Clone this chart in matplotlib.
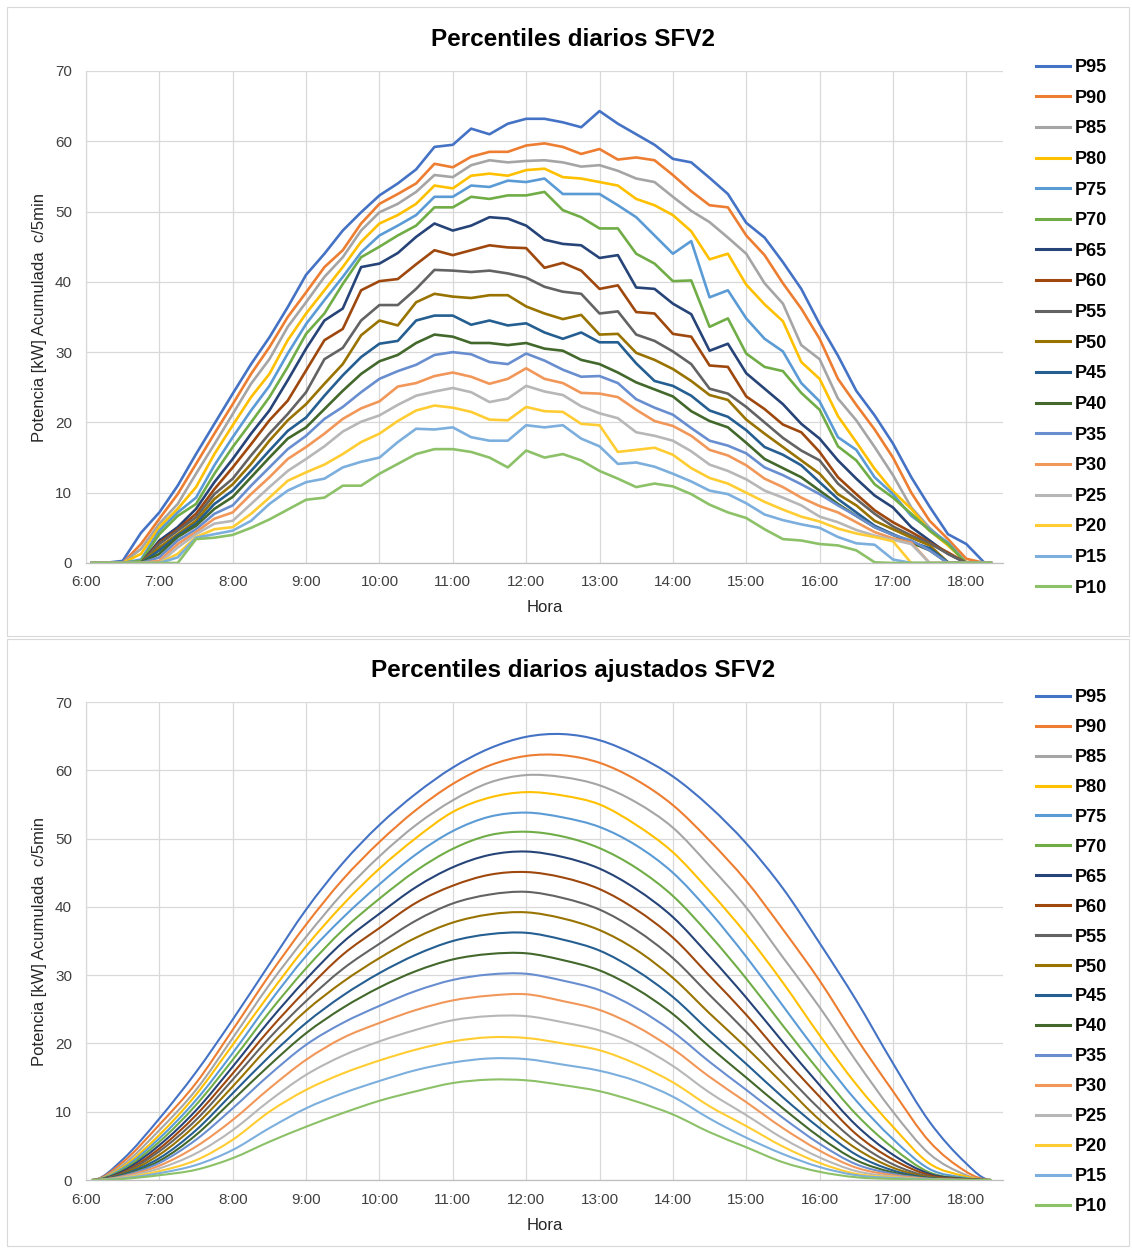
import matplotlib
matplotlib.use("Agg")
import matplotlib.pyplot as plt
from matplotlib.patches import Rectangle, PathPatch
from matplotlib.path import Path
from matplotlib.lines import Line2D

plt.rcParams['font.family'] = ['Liberation Sans', 'DejaVu Sans']

W, H = 1132, 1249

# ---------------------------------------------------------------------------
# Measured daily percentiles (kW accumulated every 5 min), sampled every 15 min
# ---------------------------------------------------------------------------
times_measured = ["6:05", "6:15", "6:30", "6:45", "7:00", "7:15", "7:30", "7:45",
                  "8:00", "8:15", "8:30", "8:45", "9:00", "9:15", "9:30", "9:45",
                  "10:00", "10:15", "10:30", "10:45", "11:00", "11:15", "11:30", "11:45",
                  "12:00", "12:15", "12:30", "12:45", "13:00", "13:15", "13:30", "13:45",
                  "14:00", "14:15", "14:30", "14:45", "15:00", "15:15", "15:30", "15:45",
                  "16:00", "16:15", "16:30", "16:45", "17:00", "17:15", "17:30", "17:45",
                  "18:00", "18:15", "18:20"]

p95 = [0, 0, 0.3, 4.3, 7.2, 11, 15.5, 19.8, 24.1, 28.3, 32.1, 36.4, 41, 44, 47.3, 49.9,
       52.3, 54, 56, 59.2, 59.5, 61.8, 61, 62.5, 63.2, 63.2, 62.7, 62, 64.3, 62.5, 61, 59.5,
       57.5, 57, 54.8, 52.5, 48.4, 46.3, 42.8, 39, 34, 29.5, 24.5, 21, 17, 12.2, 8, 4.1,
       2.7, 0, 0]
p90 = [0, 0, 0, 2.7, 6.3, 9.8, 14.1, 18.4, 22.6, 26.9, 30.7, 35, 38.5, 42.1, 44.5, 48.3,
       51.1, 52.5, 54, 56.8, 56.3, 57.8, 58.5, 58.5, 59.4, 59.7, 59.2, 58.2, 58.9, 57.4, 57.7, 57.3,
       55.2, 52.9, 50.9, 50.6, 46.6, 43.8, 39.8, 36.2, 31.9, 26.2, 22.5, 19, 15, 10, 6, 3.4,
       0.6, 0, 0]
p85 = [0, 0, 0, 2, 5.6, 8.4, 12.7, 16.9, 21.2, 25.5, 29, 33.6, 37.1, 40.7, 43.5, 47.3,
       49.9, 51.1, 52.8, 55.2, 54.9, 56.6, 57.3, 57, 57.2, 57.3, 57, 56.4, 56.6, 55.8, 54.7, 54.2,
       52.1, 50.1, 48.5, 46.3, 44, 39.8, 36.9, 31, 29, 23.4, 20.3, 16.5, 12.5, 7.9, 5, 2.6,
       0, 0, 0]
p80 = [0, 0, 0, 1.3, 5.1, 7.7, 10.8, 15.5, 19.6, 23.6, 26.9, 31.7, 35.5, 38.8, 42.1, 45.7,
       48.3, 49.5, 51.1, 53.7, 53.3, 55.1, 55.4, 55.1, 55.9, 56.1, 54.9, 54.7, 54.2, 53.7, 51.8, 50.9,
       49.5, 47.2, 43.2, 44, 39.6, 36.8, 34.4, 28.6, 26.2, 20.9, 17.2, 13.4, 10.2, 7.7, 4.6, 2.5,
       0.1, 0, 0]
p75 = [0, 0, 0, 0.5, 4.6, 7.2, 9.3, 13.9, 17.9, 21.7, 25.2, 29.8, 34, 37.4, 40.7, 44.2,
       46.6, 48, 49.5, 52.1, 52.1, 53.7, 53.5, 54.4, 54.2, 54.7, 52.5, 52.5, 52.5, 50.9, 49.2, 46.6,
       44, 45.8, 37.8, 38.8, 34.8, 31.9, 30.1, 25.6, 23, 17.9, 16.1, 12.2, 9.8, 6.7, 4.8, 2.9,
       0, 0, 0]
p70 = [0, 0, 0, 0.3, 4.1, 6.7, 8.4, 12.7, 16.5, 20, 23.6, 27.9, 32.6, 35.5, 39.7, 43.5,
       45, 46.6, 48, 50.6, 50.6, 52.1, 51.8, 52.3, 52.3, 52.8, 50.2, 49.2, 47.6, 47.6, 44, 42.6,
       40.1, 40.2, 33.6, 34.8, 29.8, 27.9, 27.3, 24.2, 21.8, 16.6, 14.6, 11.2, 9.3, 7, 4.6, 2.7,
       0, 0, 0]
p65 = [0, 0, 0, 0, 3.2, 5.1, 7.7, 11.5, 14.8, 18.4, 21.7, 26, 30.5, 34.5, 36.2, 42.1,
       42.6, 44.1, 46.4, 48.3, 47.3, 48, 49.2, 49, 48, 46, 45.4, 45.2, 43.4, 43.8, 39.2, 39,
       36.9, 35.4, 30.2, 31.2, 27, 24.8, 22.6, 19.8, 17.7, 14.6, 12, 9.6, 7.9, 5.1, 3.2, 1.3,
       0, 0, 0]
p60 = [0, 0, 0, 0, 2.9, 4.8, 7, 10.5, 13.6, 16.9, 20.3, 23.1, 27.4, 31.7, 33.3, 38.8,
       40.1, 40.4, 42.5, 44.5, 43.8, 44.5, 45.2, 44.9, 44.8, 42, 42.7, 41.6, 39, 39.5, 35.7, 35.5,
       32.6, 32.2, 28.1, 27.9, 23.7, 21.9, 19.7, 18.6, 15.8, 12.2, 9.8, 7.5, 5.8, 4.4, 2.9, 1.5,
       0, 0, 0]
p55 = [0, 0, 0, 0, 2.7, 4.6, 6.5, 9.8, 12, 15.3, 18.4, 21.2, 24.3, 29, 30.6, 34.5,
       36.7, 36.7, 39, 41.7, 41.6, 41.4, 41.6, 41.2, 40.6, 39.3, 38.6, 38.3, 35.5, 35.8, 32.5, 31.6,
       30.1, 28.3, 24.8, 24.1, 22.2, 20, 17.8, 16, 14.6, 11.3, 9.1, 7, 5.2, 3.9, 2.8, 1.3,
       0, 0, 0]
p50 = [0, 0, 0, 0, 2.2, 4.1, 6, 9.1, 11.2, 14.1, 17.4, 20.3, 22.6, 25.5, 28.3, 32.4,
       34.5, 33.8, 37.1, 38.3, 37.9, 37.7, 38.1, 38.1, 36.5, 35.5, 34.7, 35.3, 32.5, 32.6, 29.9, 28.9,
       27.6, 25.9, 23.9, 23.2, 20.4, 18.4, 16.5, 14.6, 12.7, 9.8, 8.2, 6, 4.8, 3.6, 2.5, 0.1,
       0, 0, 0]
p45 = [0, 0, 0, 0, 1.8, 3.9, 5.6, 8.4, 10.3, 13.1, 16, 18.8, 20.7, 23.8, 26.7, 29.3,
       31.2, 31.6, 34.5, 35.2, 35.2, 33.9, 34.5, 33.8, 34.1, 32.8, 31.9, 32.8, 31.4, 31.4, 28.4, 25.9,
       25.2, 23.8, 21.7, 20.8, 18.9, 16.5, 15.4, 13.9, 11.5, 9.1, 7.2, 5.3, 4.1, 3, 2.1, 0.1,
       0, 0, 0]
p40 = [0, 0, 0, 0, 1.3, 3.7, 5.3, 7.7, 9.4, 12.2, 15, 17.7, 19.3, 21.9, 24.5, 26.9,
       28.7, 29.6, 31.3, 32.5, 32.2, 31.3, 31.3, 31, 31.3, 30.5, 30.2, 28.9, 28.3, 27.1, 25.7, 24.7,
       23.7, 21.6, 20.2, 19.3, 17.1, 14.8, 13.5, 12.2, 10.3, 8.4, 6.7, 5.1, 4, 2.9, 1.8, 0,
       0, 0, 0]
p35 = [0, 0, 0, 0, 0.8, 3.2, 4.8, 7, 8.2, 11, 13.6, 16.2, 18.1, 20.5, 22.2, 24.3,
       26.2, 27.3, 28.2, 29.6, 30, 29.7, 28.6, 28.3, 29.8, 28.8, 27.5, 26.5, 26.6, 25.6, 23.3, 22.1,
       21.1, 19.2, 17.4, 16.7, 15.6, 13.6, 12.5, 11.2, 9.8, 8.2, 6.7, 5.1, 4, 3.2, 1.8, 0,
       0, 0, 0]
p30 = [0, 0, 0, 0, 0.3, 2.7, 4.4, 6.3, 7.2, 9.8, 12.2, 14.8, 16.5, 18.4, 20.5, 22,
       23, 25.1, 25.6, 26.6, 27.1, 26.5, 25.5, 26.2, 27.7, 26.2, 25.6, 24.2, 24.1, 23.6, 21.8, 20.2,
       19.5, 18.1, 16.1, 15.3, 13.9, 12, 10.8, 9.3, 8.1, 7.2, 5.8, 4.4, 3.5, 2.9, 0, 0,
       0, 0, 0]
p25 = [0, 0, 0, 0, 0, 2.2, 4.1, 5.6, 6, 8.4, 10.8, 13.1, 14.8, 16.6, 18.7, 20.1,
       21, 22.5, 23.8, 24.4, 24.9, 24.3, 22.9, 23.4, 25.2, 24.4, 23.9, 22.3, 21.3, 20.6, 18.6, 18.1,
       17.4, 15.9, 14, 13.1, 11.9, 10.3, 9.3, 8.2, 6.6, 5.8, 4.7, 3.9, 3.3, 2.7, 0, 0,
       0, 0, 0]
p20 = [0, 0, 0, 0, 0, 1.3, 3.7, 4.8, 5.1, 7, 9.3, 11.7, 12.9, 14, 15.5, 17.2,
       18.4, 20.2, 21.7, 22.4, 22.1, 21.5, 20.4, 20.3, 22.2, 21.6, 21.5, 19.8, 19.6, 15.8, 16.1, 16.4,
       15.4, 13.5, 12.1, 11.3, 10, 8.7, 7.6, 6.6, 5.9, 4.9, 4.2, 3.7, 3.1, 0, 0, 0,
       0, 0, 0]
p15 = [0, 0, 0, 0, 0, 0.8, 3.6, 4.1, 4.6, 6, 8.4, 10.3, 11.5, 12, 13.6, 14.4,
       15, 17.2, 19.1, 19, 19.3, 17.9, 17.4, 17.4, 19.6, 19.3, 19.6, 17.7, 16.6, 14.1, 14.3, 13.7,
       12.7, 11.6, 10.3, 9.8, 8.5, 6.9, 6.1, 5.5, 5, 3.7, 2.8, 2.6, 0.5, 0, 0, 0,
       0, 0, 0]
p10 = [0, 0, 0, 0, 0, 0, 3.4, 3.6, 4, 5, 6.2, 7.6, 9, 9.3, 11, 11,
       12.7, 14.1, 15.5, 16.2, 16.2, 15.8, 15, 13.6, 16, 15, 15.5, 14.6, 13.1, 12, 10.8, 11.3,
       10.9, 9.8, 8.3, 7.2, 6.4, 4.8, 3.4, 3.2, 2.7, 2.5, 1.8, 0.1, 0, 0, 0, 0,
       0, 0, 0]

# ---------------------------------------------------------------------------
# Fitted daily percentile curves, sampled every 30 min
# ---------------------------------------------------------------------------
times_fitted = ["6:05", "6:30", "7:00", "7:30", "8:00", "8:30", "9:00", "9:30", "10:00",
                "10:30", "11:00", "11:30", "12:00", "12:30", "13:00", "13:30", "14:00",
                "14:30", "15:00", "15:30", "16:00", "16:30", "17:00", "17:30", "18:00", "18:20"]

fit95 = [0, 3.0, 9.0, 15.8, 23.5, 31.6, 39.6, 46.4, 52.0, 56.6, 60.4, 63.2, 64.9, 65.3, 64.4, 62.2, 59.1, 54.7, 49.3, 42.7, 34.7, 26.3, 17.1, 8.5, 2.4, 0]
fit90 = [0, 2.6, 8.1, 14.2, 22.0, 30.0, 37.4, 44.0, 49.5, 54.2, 58.0, 60.7, 62.1, 62.2, 61.1, 58.6, 54.9, 49.7, 43.8, 36.7, 29.2, 20.8, 13.0, 5.6, 1.2, 0]
fit85 = [0, 2.2, 7.3, 13.2, 20.8, 28.6, 35.6, 42.0, 47.4, 52.0, 55.6, 58.2, 59.3, 59.0, 57.8, 55.3, 51.6, 46.0, 39.9, 32.6, 25.3, 17.4, 10.0, 3.8, 0.7, 0]
fit80 = [0, 1.9, 6.6, 12.5, 19.8, 27.2, 34.2, 40.3, 45.6, 50.1, 53.9, 56.0, 56.8, 56.3, 55.0, 52.0, 48.0, 42.3, 36.0, 28.9, 21.2, 14.0, 7.8, 2.4, 0.5, 0]
fit75 = [0, 1.7, 6.1, 11.7, 18.6, 26.0, 32.8, 38.4, 43.3, 47.7, 51.1, 53.2, 53.8, 53.1, 51.7, 49.0, 45.0, 39.3, 32.7, 25.5, 18.3, 11.6, 6.0, 1.6, 0.3, 0]
fit70 = [0, 1.5, 5.6, 11.0, 17.6, 24.6, 31.0, 36.6, 41.2, 45.3, 48.5, 50.5, 51.0, 50.3, 48.6, 45.7, 41.6, 35.9, 29.5, 22.6, 15.9, 9.6, 4.7, 1.1, 0.2, 0]
fit65 = [0, 1.3, 5.1, 10.2, 16.6, 23.3, 29.4, 34.8, 39.0, 42.9, 45.8, 47.6, 48.1, 47.3, 45.6, 42.6, 38.5, 32.8, 26.7, 20.2, 13.9, 8.0, 3.7, 0.9, 0.15, 0]
fit60 = [0, 1.1, 4.6, 9.5, 15.6, 22.0, 27.8, 33.0, 36.9, 40.6, 43.1, 44.7, 45.1, 44.3, 42.6, 39.6, 35.5, 29.9, 24.2, 18.0, 12.2, 6.7, 3.0, 0.7, 0.1, 0]
fit55 = [0, 1.0, 4.2, 8.8, 14.7, 20.8, 26.2, 30.9, 34.6, 38.0, 40.5, 41.8, 42.2, 41.3, 39.6, 36.6, 32.5, 27.1, 21.7, 15.9, 10.4, 5.6, 2.3, 0.5, 0.1, 0]
fit50 = [0, 0.9, 3.7, 8.1, 13.7, 19.6, 24.8, 29.0, 32.5, 35.5, 37.7, 38.9, 39.2, 38.3, 36.6, 33.7, 29.6, 24.4, 19.4, 14.1, 8.8, 4.6, 1.8, 0.4, 0.05, 0]
fit45 = [0, 0.8, 3.2, 7.3, 12.7, 18.1, 23.0, 27.0, 30.3, 33.0, 35.0, 36.0, 36.2, 35.2, 33.6, 30.7, 26.8, 21.8, 17.0, 12.1, 7.6, 3.7, 1.4, 0.3, 0, 0]
fit40 = [0, 0.7, 2.8, 6.6, 11.7, 16.8, 21.5, 25.2, 28.2, 30.6, 32.3, 33.1, 33.2, 32.2, 30.7, 28.0, 24.3, 19.5, 15.0, 10.5, 6.3, 2.9, 1.1, 0.25, 0, 0]
fit35 = [0, 0.6, 2.5, 5.9, 10.5, 15.4, 19.8, 23.0, 25.5, 27.7, 29.3, 30.1, 30.2, 29.2, 27.8, 25.2, 21.7, 17.3, 13.2, 9.1, 5.3, 2.3, 0.9, 0.2, 0, 0]
fit30 = [0, 0.5, 2.1, 4.9, 8.8, 13.4, 17.6, 20.8, 23.0, 24.9, 26.3, 27.0, 27.2, 26.2, 24.9, 22.5, 19.2, 15.1, 11.4, 7.6, 4.3, 1.8, 0.7, 0.15, 0, 0]
fit25 = [0, 0.4, 1.7, 3.9, 7.3, 11.6, 15.4, 18.2, 20.3, 22.0, 23.4, 24.0, 24.0, 23.1, 21.9, 19.8, 16.7, 12.8, 9.5, 6.1, 3.3, 1.3, 0.5, 0.1, 0, 0]
fit20 = [0, 0.3, 1.3, 2.9, 5.9, 10.0, 13.2, 15.6, 17.5, 19.1, 20.3, 20.9, 20.8, 20.0, 19.0, 17.0, 14.3, 10.8, 7.9, 4.9, 2.5, 0.9, 0.4, 0.1, 0, 0]
fit15 = [0, 0.25, 1.0, 2.2, 4.4, 7.6, 10.5, 12.7, 14.5, 16.1, 17.2, 17.8, 17.7, 16.9, 16.0, 14.5, 12.2, 9.0, 6.2, 3.8, 1.9, 0.7, 0.3, 0.1, 0, 0]
fit10 = [0, 0.15, 0.7, 1.5, 3.2, 5.6, 7.8, 9.8, 11.6, 13.0, 14.2, 14.7, 14.6, 13.9, 13.0, 11.5, 9.6, 7.0, 4.8, 2.6, 1.2, 0.4, 0.15, 0.05, 0, 0]

labels = ["P95", "P90", "P85", "P80", "P75", "P70", "P65", "P60", "P55",
          "P50", "P45", "P40", "P35", "P30", "P25", "P20", "P15", "P10"]
colors = ["#4472C4", "#ED7D31", "#A5A5A5", "#FFC000", "#5B9BD5", "#70AD47",
          "#264478", "#9E480E", "#636363", "#997300", "#255E91", "#43682B",
          "#698ED0", "#F1975A", "#B7B7B7", "#FFCD33", "#7CAFDD", "#8CC168"]

measured = [p95, p90, p85, p80, p75, p70, p65, p60, p55,
            p50, p45, p40, p35, p30, p25, p20, p15, p10]
fitted = [fit95, fit90, fit85, fit80, fit75, fit70, fit65, fit60, fit55,
          fit50, fit45, fit40, fit35, fit30, fit25, fit20, fit15, fit10]

hour_ticks = list(range(6, 19))
hour_labels = [f"{h}:00" for h in hour_ticks]
y_label = "Potencia [kW] Acumulada  c/5min"


def to_hours(labels_hm):
    out = []
    for s in labels_hm:
        h, m = s.split(":")
        out.append(int(h) + int(m) / 60.0)
    return out


def smooth_path(xs, ys):
    """Smoothed line through the fitted samples (cubic Hermite segments, flat ends)."""
    n = len(xs)
    slopes = [0.0] * n
    for i in range(1, n - 1):
        slopes[i] = (ys[i + 1] - ys[i - 1]) / (xs[i + 1] - xs[i - 1])
    verts = [(xs[0], ys[0])]
    codes = [Path.MOVETO]
    for i in range(n - 1):
        d = (xs[i + 1] - xs[i]) / 3.0
        verts += [(xs[i] + d, ys[i] + slopes[i] * d),
                  (xs[i + 1] - d, ys[i + 1] - slopes[i + 1] * d),
                  (xs[i + 1], ys[i + 1])]
        codes += [Path.CURVE4] * 3
    return Path(verts, codes)


def fx(px):
    return px / W


def fy(py):
    return 1 - py / H


fig = plt.figure(figsize=(W / 100, H / 100), dpi=100)
fig.patch.set_facecolor("white")

# chart frames
for top, bottom in [(7, 636), (639, 1246)]:
    fig.patches.append(Rectangle((fx(7), fy(bottom)), fx(1129) - fx(7), fy(top) - fy(bottom),
                                 transform=fig.transFigure, fill=False,
                                 edgecolor="#D9D9D9", linewidth=0.8))


def draw_panel(plot_top, plot_bottom, title, title_y, xs, series, lw, smooth,
               legend_top, legend_spacing):
    ax = fig.add_axes([fx(86), fy(plot_bottom), fx(1003) - fx(86), fy(plot_top) - fy(plot_bottom)])
    handles = []
    for vals, lab, col in zip(series, labels, colors):
        if smooth:
            ax.add_patch(PathPatch(smooth_path(xs, vals), fill=False, edgecolor=col,
                                   lw=lw, capstyle="round", joinstyle="round"))
        else:
            ax.plot(xs, vals, color=col, lw=lw, solid_joinstyle="round")
        handles.append(Line2D([], [], color=col, lw=2.2, label=lab))
    ax.set_xlim(6, 18.5)
    ax.set_ylim(0, 70)
    ax.set_xticks(hour_ticks)
    ax.set_xticklabels(hour_labels)
    ax.set_yticks(range(0, 71, 10))
    ax.set_axisbelow(True)
    ax.grid(True, color="#D9D9D9", lw=0.9)
    for s in ["top", "right"]:
        ax.spines[s].set_visible(False)
    ax.spines["left"].set_color("#D9D9D9")
    ax.spines["left"].set_linewidth(0.9)
    ax.spines["bottom"].set_color("#BFBFBF")
    ax.spines["bottom"].set_linewidth(0.9)
    ax.tick_params(axis="both", length=0, labelsize=11, colors="#404040")
    ax.tick_params(axis="x", pad=9)
    ax.tick_params(axis="y", pad=10)
    fig.text(fx(573), fy(title_y), title, ha="center", va="center",
             fontsize=17.5, fontweight="bold", color="#000000")
    fig.text(fx(40), fy((plot_top + plot_bottom) / 2), y_label, rotation=90,
             ha="center", va="center", fontsize=12, color="#262626")
    fig.text(fx(544.5), fy(plot_bottom + 45), "Hora", ha="center", va="center",
             fontsize=12, color="#262626")
    leg = ax.legend(handles=handles, loc="upper left", bbox_to_anchor=(fx(1036), fy(legend_top)),
                    bbox_transform=fig.transFigure, frameon=False, fontsize=13,
                    handlelength=1.9, handletextpad=0.25, borderpad=0, borderaxespad=0,
                    labelspacing=legend_spacing)
    for t in leg.get_texts():
        t.set_fontweight("bold")
        t.set_color("#000000")
    return ax


draw_panel(71, 563, "Percentiles diarios SFV2", 39, to_hours(times_measured), measured,
           1.9, False, 59, 0.755)
draw_panel(702, 1180, "Percentiles diarios ajustados SFV2", 670, to_hours(times_fitted), fitted,
           1.5, True, 689, 0.717)

fig.savefig("out.png", dpi=100, facecolor="white")
